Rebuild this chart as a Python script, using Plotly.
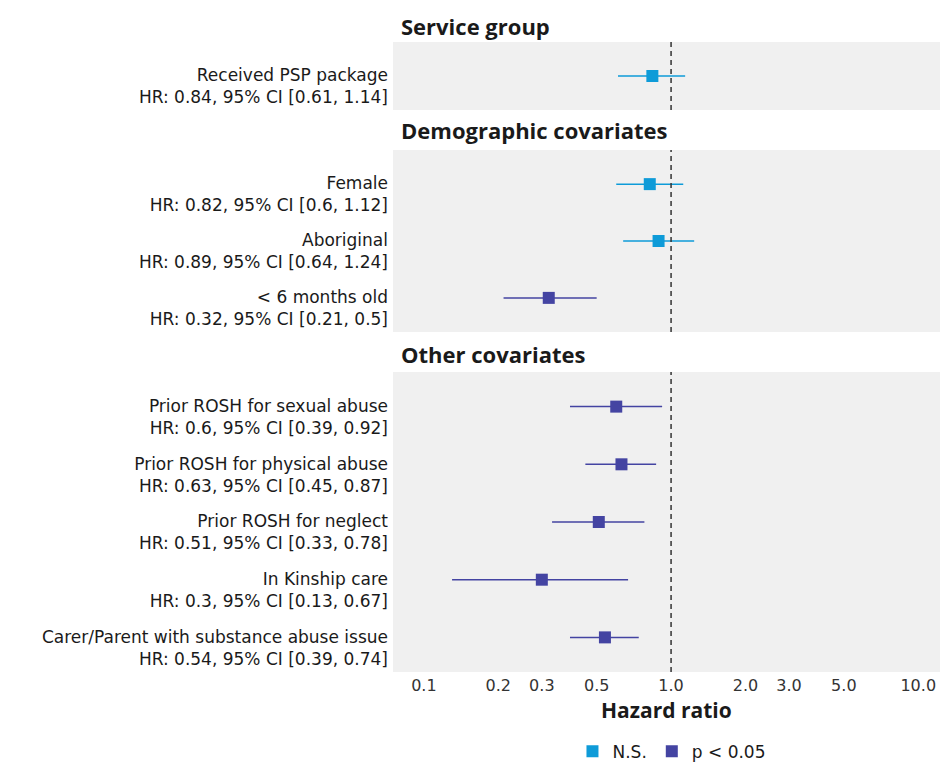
import plotly.graph_objects as go

# ---- data ----
panels = ["Service group", "Demographic covariates", "Other covariates"]
labels_p1 = ["Received PSP package"]
hr_p1 = [0.84]; lo_p1 = [0.61]; hi_p1 = [1.14]; sig_p1 = [False]

labels_p2 = ["Female", "Aboriginal", "< 6 months old"]
hr_p2 = [0.82, 0.89, 0.32]; lo_p2 = [0.6, 0.64, 0.21]; hi_p2 = [1.12, 1.24, 0.5]
sig_p2 = [False, False, True]

labels_p3 = ["Prior ROSH for sexual abuse", "Prior ROSH for physical abuse",
             "Prior ROSH for neglect", "In Kinship care",
             "Carer/Parent with substance abuse issue"]
hr_p3 = [0.6, 0.63, 0.51, 0.3, 0.54]
lo_p3 = [0.39, 0.45, 0.33, 0.13, 0.39]
hi_p3 = [0.92, 0.87, 0.78, 0.67, 0.74]
sig_p3 = [True, True, True, True, True]

x_ticks = [0.1, 0.2, 0.3, 0.5, 1.0, 2.0, 3.0, 5.0, 10.0]
x_tick_labels = ["0.1", "0.2", "0.3", "0.5", "1.0", "2.0", "3.0", "5.0", "10.0"]

COL_NS = "#0E9BD8"
COL_SIG = "#4444A2"
FONT = "DejaVu Sans"
FS = 17
HFONT = "Open Sans"
TXT = "#1a1a1a"

data_panels = [
    (labels_p1, hr_p1, lo_p1, hi_p1, sig_p1),
    (labels_p2, hr_p2, lo_p2, hi_p2, sig_p2),
    (labels_p3, hr_p3, lo_p3, hi_p3, sig_p3),
]

W, H = 940, 763
top_px, bot_px = 42, 672
ph = bot_px - top_px
panel_px = [(42, 110), (150, 332), (372, 672)]
header_shift = [-1, 3, 1]
domains = [[(bot_px - b) / ph, (bot_px - t) / ph] for (t, b) in panel_px]

fig = go.Figure()
shown = {True: False, False: False}
for i, (labs, hr, lo, hi, sig) in enumerate(data_panels):
    yname = "y" if i == 0 else f"y{i+1}"
    for s in [False, True]:
        idx = [k for k in range(len(labs)) if sig[k] == s]
        if not idx:
            continue
        fig.add_trace(go.Scatter(
            x=[hr[k] for k in idx],
            y=[k for k in idx],
            mode="markers",
            marker=dict(symbol="square", size=12, color=COL_SIG if s else COL_NS),
            error_x=dict(type="data", symmetric=False,
                         array=[hi[k] - hr[k] for k in idx],
                         arrayminus=[hr[k] - lo[k] for k in idx],
                         color=COL_SIG if s else COL_NS, thickness=1.5, width=0),
            name="p < 0.05" if s else "N.S.",
            legendgroup="sig" if s else "ns",
            legendrank=2 if s else 1,
            showlegend=not shown[s],
            xaxis="x", yaxis=yname,
        ))
        shown[s] = True

layout = dict(
    width=W, height=H,
    margin=dict(l=393, r=0, t=top_px, b=H - bot_px, autoexpand=False),
    paper_bgcolor="white",
    plot_bgcolor="#F0F0F0",
    font=dict(family=FONT, size=FS, color=TXT),
    showlegend=True,
    legend=dict(orientation="h", x=0.51, xanchor="center", y=-0.098, yanchor="top",
                font=dict(size=FS, color=TXT), itemwidth=30, traceorder="normal"),
    xaxis=dict(type="log", range=[-1.125, 1.088], tickvals=x_ticks, ticktext=x_tick_labels,
               showgrid=False, zeroline=False, showline=False, ticks="",
               ticklabelstandoff=2,
               tickfont=dict(size=16, color="#333"), anchor="y3"),
)
LABEL_SHIFT = 0.18
for i, (labs, hr, lo, hi, sig) in enumerate(data_panels):
    key = "yaxis" if i == 0 else f"yaxis{i+1}"
    n = len(labs)
    ticktext = [f"{labs[k]}<br>HR: {hr[k]:g}, 95% CI [{lo[k]:g}, {hi[k]:g}]" for k in range(n)]
    layout[key] = dict(domain=domains[i], anchor="x", range=[n - 1 + 0.6, -0.6],
                       tickvals=[k + LABEL_SHIFT for k in range(n)], ticktext=ticktext,
                       showgrid=False, zeroline=False, showline=False, ticks="",
                       ticklabelstandoff=4,
                       tickfont=dict(size=FS, color=TXT))
fig.update_layout(**layout)

for i in range(3):
    yref = "y domain" if i == 0 else f"y{i+1} domain"
    fig.add_shape(type="rect", xref="x domain", yref=yref, x0=0, x1=1, y0=0, y1=1,
                  fillcolor="#F0F0F0", line=dict(width=0), layer="below")
    fig.add_shape(type="line", xref="x", yref=yref, x0=1, x1=1, y0=0, y1=1,
                  line=dict(color="#333", width=1.5, dash="5px,4px"))
    fig.add_annotation(text=f"<b>{panels[i]}</b>", xref="paper", yref="paper",
                       x=0, xshift=6, y=domains[i][1], yshift=header_shift[i],
                       xanchor="left", yanchor="bottom", showarrow=False,
                       font=dict(family=HFONT, size=22, color=TXT))

# axis title
fig.add_annotation(text="<b>Hazard ratio</b>", xref="paper", yref="paper",
                   x=0.5, y=0, yshift=-(694 - bot_px), yanchor="top", xanchor="center",
                   showarrow=False, font=dict(family=HFONT, size=21, color=TXT))

fig.write_html("out.html", config={"displayModeBar": False},
               post_script="document.body.style.margin='0';document.body.style.overflow='hidden';")
